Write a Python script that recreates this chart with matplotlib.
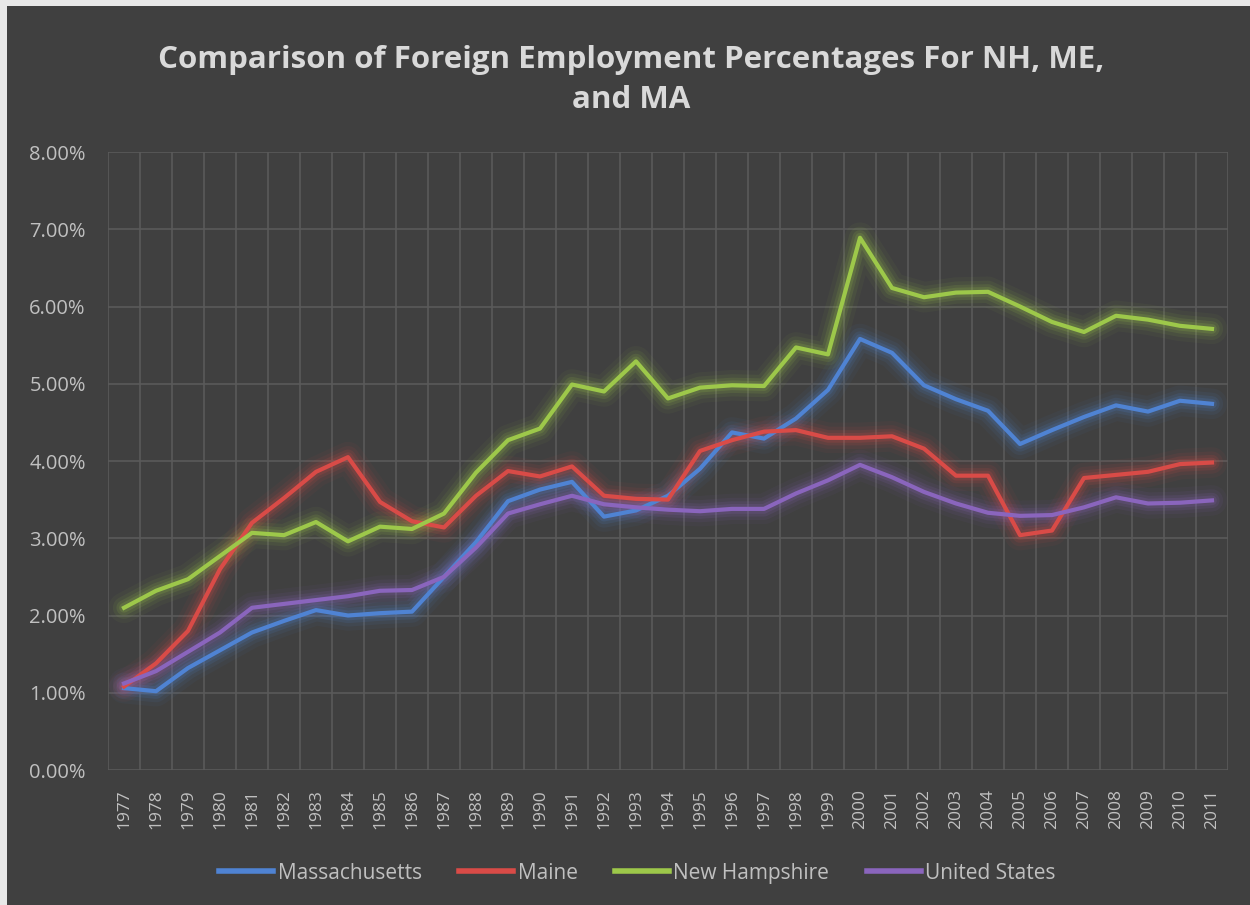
import matplotlib
matplotlib.use("Agg")
import matplotlib.pyplot as plt
import matplotlib.patches as mpatches
from matplotlib.ticker import FuncFormatter, MultipleLocator, FixedLocator
import numpy as np

years = list(range(1977, 2012))
massachusetts = [1.06, 1.02, 1.32, 1.55, 1.78, 1.93, 2.07, 2.00, 2.03, 2.05,
                 2.50, 2.95, 3.48, 3.63, 3.73, 3.28, 3.36, 3.55, 3.90, 4.37,
                 4.29, 4.55, 4.92, 5.58, 5.40, 4.98, 4.80, 4.65, 4.22, 4.40,
                 4.57, 4.72, 4.64, 4.78, 4.74]
maine = [1.08, 1.38, 1.80, 2.60, 3.20, 3.52, 3.86, 4.05, 3.47, 3.22,
         3.14, 3.55, 3.87, 3.80, 3.93, 3.55, 3.51, 3.50, 4.13, 4.27,
         4.38, 4.40, 4.30, 4.30, 4.32, 4.16, 3.81, 3.81, 3.04, 3.10,
         3.78, 3.82, 3.86, 3.96, 3.98]
new_hampshire = [2.10, 2.32, 2.47, 2.77, 3.07, 3.04, 3.21, 2.96, 3.15, 3.12,
                 3.32, 3.85, 4.27, 4.42, 4.99, 4.90, 5.29, 4.81, 4.95, 4.98,
                 4.97, 5.47, 5.38, 6.89, 6.24, 6.12, 6.18, 6.19, 6.00, 5.80,
                 5.67, 5.88, 5.83, 5.75, 5.71]
united_states = [1.12, 1.28, 1.53, 1.78, 2.10, 2.15, 2.20, 2.25, 2.32, 2.33,
                 2.50, 2.88, 3.32, 3.44, 3.55, 3.44, 3.40, 3.37, 3.35, 3.38,
                 3.38, 3.58, 3.75, 3.95, 3.79, 3.60, 3.45, 3.33, 3.29, 3.30,
                 3.40, 3.53, 3.45, 3.46, 3.49]

series_names = ["Massachusetts", "Maine", "New Hampshire", "United States"]
series_values = [massachusetts, maine, new_hampshire, united_states]
colors = ["#4f83d3", "#d94b47", "#9dc84a", "#8a65bd"]

title = "Comparison of Foreign Employment Percentages For NH, ME,\nand MA"

BG = "#404040"
GRID = "#5a5a5a"
TXT = "#c0c0c0"
FAM = ["Open Sans", "DejaVu Sans"]

fig = plt.figure(figsize=(12.5, 9.05), dpi=100, facecolor=BG)
ax = fig.add_axes([108/1250, 135/905, 1120/1250, 618/905], facecolor=BG)

x = np.arange(len(years))
for vals, c, name in zip(series_values, colors, series_names):
    for lw, a in [(22, 0.05), (16, 0.08), (11, 0.12), (7, 0.16)]:
        ax.plot(x, vals, color=c, lw=lw, alpha=a, solid_capstyle="round",
                solid_joinstyle="round", zorder=2)
for vals, c, name in zip(series_values, colors, series_names):
    ax.plot(x, vals, color=c, lw=3.0, label=name, solid_joinstyle="round", zorder=3)

ax.set_xlim(-0.5, len(years) - 0.5)
ax.set_ylim(0, 8)
ax.yaxis.set_major_locator(MultipleLocator(1))
ax.yaxis.set_major_formatter(FuncFormatter(lambda v, p: f"{v:.2f}%"))
ax.set_xticks(x)
ax.set_xticklabels([str(y) for y in years], rotation=90)
ax.xaxis.set_minor_locator(FixedLocator(np.arange(-0.5, len(years), 1)))
ax.grid(True, which="major", axis="y", color=GRID, lw=1.2, zorder=1)
ax.grid(True, which="minor", axis="x", color=GRID, lw=1.2, zorder=1)
ax.set_axisbelow(True)
for s in ax.spines.values():
    s.set_visible(False)
ax.tick_params(axis="both", which="both", length=0, colors=TXT)
ax.tick_params(axis="y", pad=16, labelsize=14.5)
ax.tick_params(axis="x", pad=14, labelsize=12.5)
for lab in ax.get_yticklabels() + ax.get_xticklabels():
    lab.set_fontfamily(FAM)

fig.text(0.505, 1 - 80/905, title, ha="center", va="center", fontsize=22.5,
         fontweight="bold", color="#d9d9d9", linespacing=1.45, family=FAM)

leg = fig.legend(loc="center", bbox_to_anchor=(0.51, 1 - 873/905), ncol=4,
                 frameon=False, handlelength=2.6, handletextpad=0.2,
                 columnspacing=1.8, prop={"family": FAM, "size": 15})
for t in leg.get_texts():
    t.set_color(TXT)
for h in leg.get_lines():
    h.set_linewidth(4)

# white border strips at top and left like the reference screenshot
fig.patches.append(mpatches.Rectangle((0, 1 - 6/905), 1, 6/905, transform=fig.transFigure,
                                      facecolor="#e8e8e8", edgecolor="none", zorder=10))
fig.patches.append(mpatches.Rectangle((0, 0), 7/1250, 1, transform=fig.transFigure,
                                      facecolor="#e8e8e8", edgecolor="none", zorder=10))

fig.savefig("out.png", dpi=100, facecolor=BG)
